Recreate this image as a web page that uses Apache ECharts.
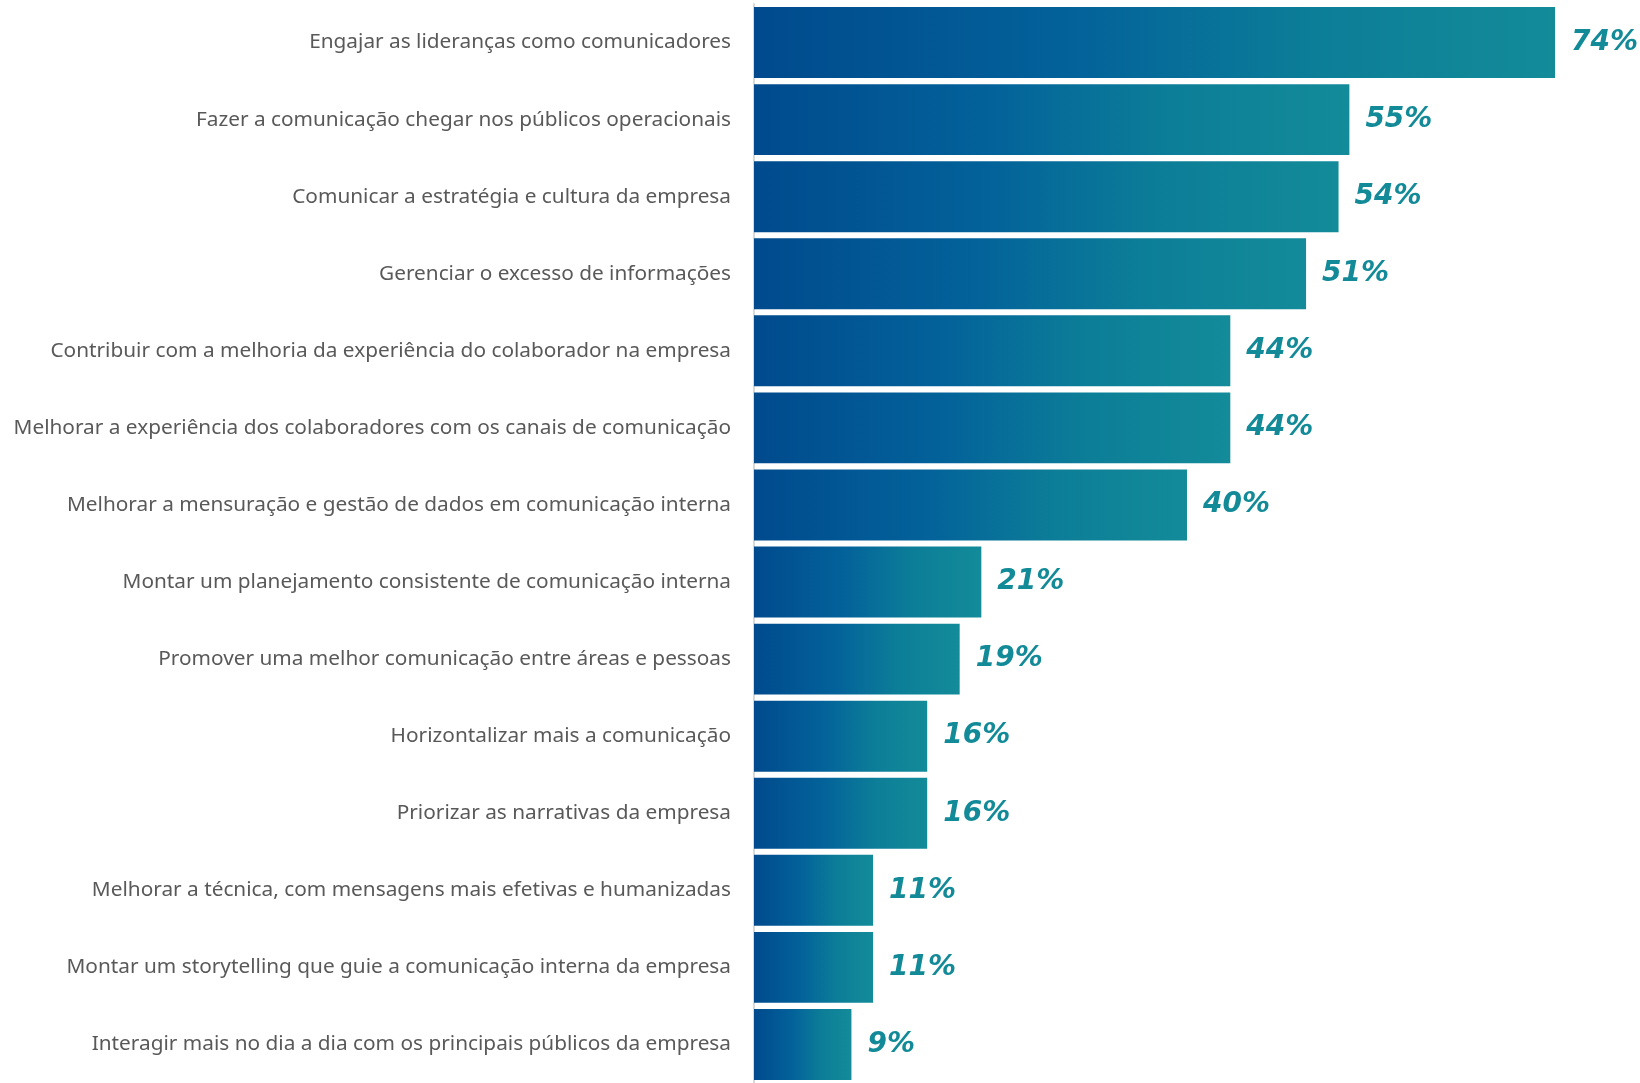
<!DOCTYPE html>
<html>
<head>
<meta charset="utf-8">
<script src="https://cdn.jsdelivr.net/npm/echarts@6/dist/echarts.min.js"></script>
<style>
  html, body { margin: 0; padding: 0; background: #ffffff; }
  #chart { width: 1640px; height: 1083px; }
</style>
</head>
<body>
<div id="chart"></div>
<script>
// Desafios da comunicação interna (% de respostas), do maior para o menor
const categories = [
  'Engajar as lideranças como comunicadores',
  'Fazer a comunicação chegar nos públicos operacionais',
  'Comunicar a estratégia e cultura da empresa',
  'Gerenciar o excesso de informações',
  'Contribuir com a melhoria da experiência do colaborador na empresa',
  'Melhorar a experiência dos colaboradores com os canais de comunicação',
  'Melhorar a mensuração e gestão de dados em comunicação interna',
  'Montar um planejamento consistente de comunicação interna',
  'Promover uma melhor comunicação entre áreas e pessoas',
  'Horizontalizar mais a comunicação',
  'Priorizar as narrativas da empresa',
  'Melhorar a técnica, com mensagens mais efetivas e humanizadas',
  'Montar um storytelling que guie a comunicação interna da empresa',
  'Interagir mais no dia a dia com os principais públicos da empresa'
];
const values = [74, 55, 54, 51, 44, 44, 40, 21, 19, 16, 16, 11, 11, 9];

const barGradient = new echarts.graphic.LinearGradient(0, 0, 1, 0, [
  { offset: 0, color: '#004a8d' },
  { offset: 0.4, color: '#03629a' },
  { offset: 0.7, color: '#0c7e98' },
  { offset: 1, color: '#138b99' }
]);

const chart = echarts.init(document.getElementById('chart'), null, { renderer: 'canvas' });
chart.setOption({
  animation: false,
  backgroundColor: '#ffffff',
  grid: { left: 754, top: 4, height: 1085, width: 866, containLabel: false },
  xAxis: {
    type: 'value', min: 0, max: 80,
    show: false
  },
  yAxis: {
    type: 'category',
    data: categories,
    inverse: true,
    offset: 1,
    axisLine: { show: true, lineStyle: { color: '#d9d9d9', width: 2 } },
    axisTick: { show: false },
    axisLabel: {
      margin: 22,
      color: '#595959',
      fontFamily: 'Noto Sans',
      fontSize: 20.8,
      padding: [5, 0, 0, 0]
    }
  },
  series: [{
    type: 'bar',
    data: values,
    barCategoryGap: '8%',
    itemStyle: { color: barGradient },
    label: {
      show: true,
      position: 'right',
      distance: 16,
      formatter: '{c}%',
      color: '#138a97',
      fontFamily: 'DejaVu Sans',
      fontStyle: 'italic',
      fontWeight: 'bold',
      fontSize: 28,
      padding: [7, 0, 0, 0]
    }
  }]
});
</script>
</body>
</html>
